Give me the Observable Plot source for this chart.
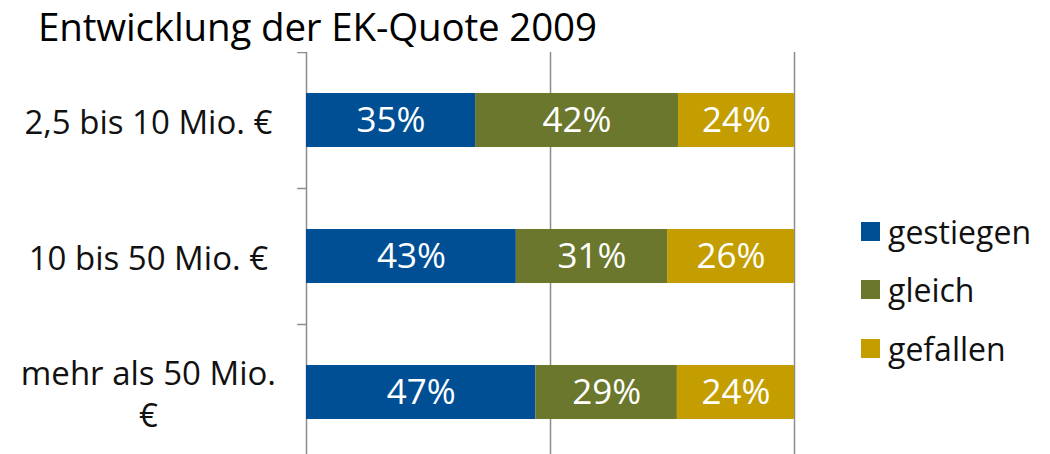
<!DOCTYPE html>
<html>
<head>
<meta charset="utf-8">
<script src="https://cdn.jsdelivr.net/npm/d3@7"></script>
<script src="https://cdn.jsdelivr.net/npm/@observablehq/plot@0.6"></script>
<style>
  html, body { margin: 0; padding: 0; background: #fff; }
  body { width: 1050px; height: 454px; position: relative; overflow: hidden; font-family: "Open Sans", sans-serif; }
  #title { position: absolute; left: 38px; top: 0px; font-size: 38.5px; color: #000; white-space: nowrap; letter-spacing: -0.15px; }
  #chart { position: absolute; left: 0; top: 52px; }
  #legend { position: absolute; left: 861px; top: 202px; }
  .item { display: flex; align-items: center; height: 58.5px; font-size: 32px; color: #111; }
  .sw { width: 19px; height: 19px; margin-right: 8px; }
</style>
</head>
<body>
<div id="title">Entwicklung der EK-Quote 2009</div>
<div id="chart"></div>
<div id="legend"></div>
<script>
const categories = ["2,5 bis 10 Mio. €", "10 bis 50 Mio. €", "mehr als 50 Mio. €"];
const categoryLabels = ["2,5 bis 10 Mio. €", "10 bis 50 Mio. €", "mehr als 50 Mio.\n€"];
const series = ["gestiegen", "gleich", "gefallen"];
const colors = ["#004f95", "#6a772c", "#c49e00"];
const gestiegen = [35, 43, 47];
const gleich = [42, 31, 29];
const gefallen = [24, 26, 24];
const gridTicks = [0, 0.5, 1];

const seriesValues = [gestiegen, gleich, gefallen];
const data = [];
categories.forEach((c, i) => {
  series.forEach((s, j) => {
    data.push({cat: c, series: s, value: seriesValues[j][i], label: seriesValues[j][i] + "%"});
  });
});
const labelRows = categories.map((c, i) => ({cat: c, label: categoryLabels[i]}));

const chart = Plot.plot({
  width: 1050,
  height: 402,
  marginLeft: 306,
  marginRight: 256,
  marginTop: 0,
  marginBottom: 0,
  x: {domain: [0, 1], axis: null},
  y: {domain: categories, range: [0, 408], paddingInner: 0.6, paddingOuter: 0.3, axis: null},
  color: {domain: series, range: colors},
  style: {fontFamily: "Open Sans, sans-serif"},
  marks: [
    Plot.ruleX(gridTicks, {stroke: "#8c8c8c", strokeWidth: 1.5}),
    Plot.ruleY(categories, {y: d => d, x1: -0.018, x2: 0, dy: -68, stroke: "#8c8c8c", strokeWidth: 1.5}),
    Plot.barX(data, Plot.stackX({offset: "normalize", x: "value", y: "cat", fill: "series"})),
    Plot.text(data, Plot.stackX({offset: "normalize", x: "value", y: "cat", text: "label", fill: "white", fontSize: 35})),
    Plot.text(labelRows, {x: -0.324, y: "cat", text: "label", textAnchor: "middle", fontSize: 33, lineHeight: 1.27, fill: "#111"})
  ]
});
document.getElementById("chart").appendChild(chart);

const legend = document.getElementById("legend");
series.forEach((s, i) => {
  const row = document.createElement("div");
  row.className = "item";
  const sw = document.createElement("div");
  sw.className = "sw";
  sw.style.background = colors[i];
  const t = document.createElement("span");
  t.textContent = s;
  row.appendChild(sw);
  row.appendChild(t);
  legend.appendChild(row);
});
</script>
</body>
</html>
